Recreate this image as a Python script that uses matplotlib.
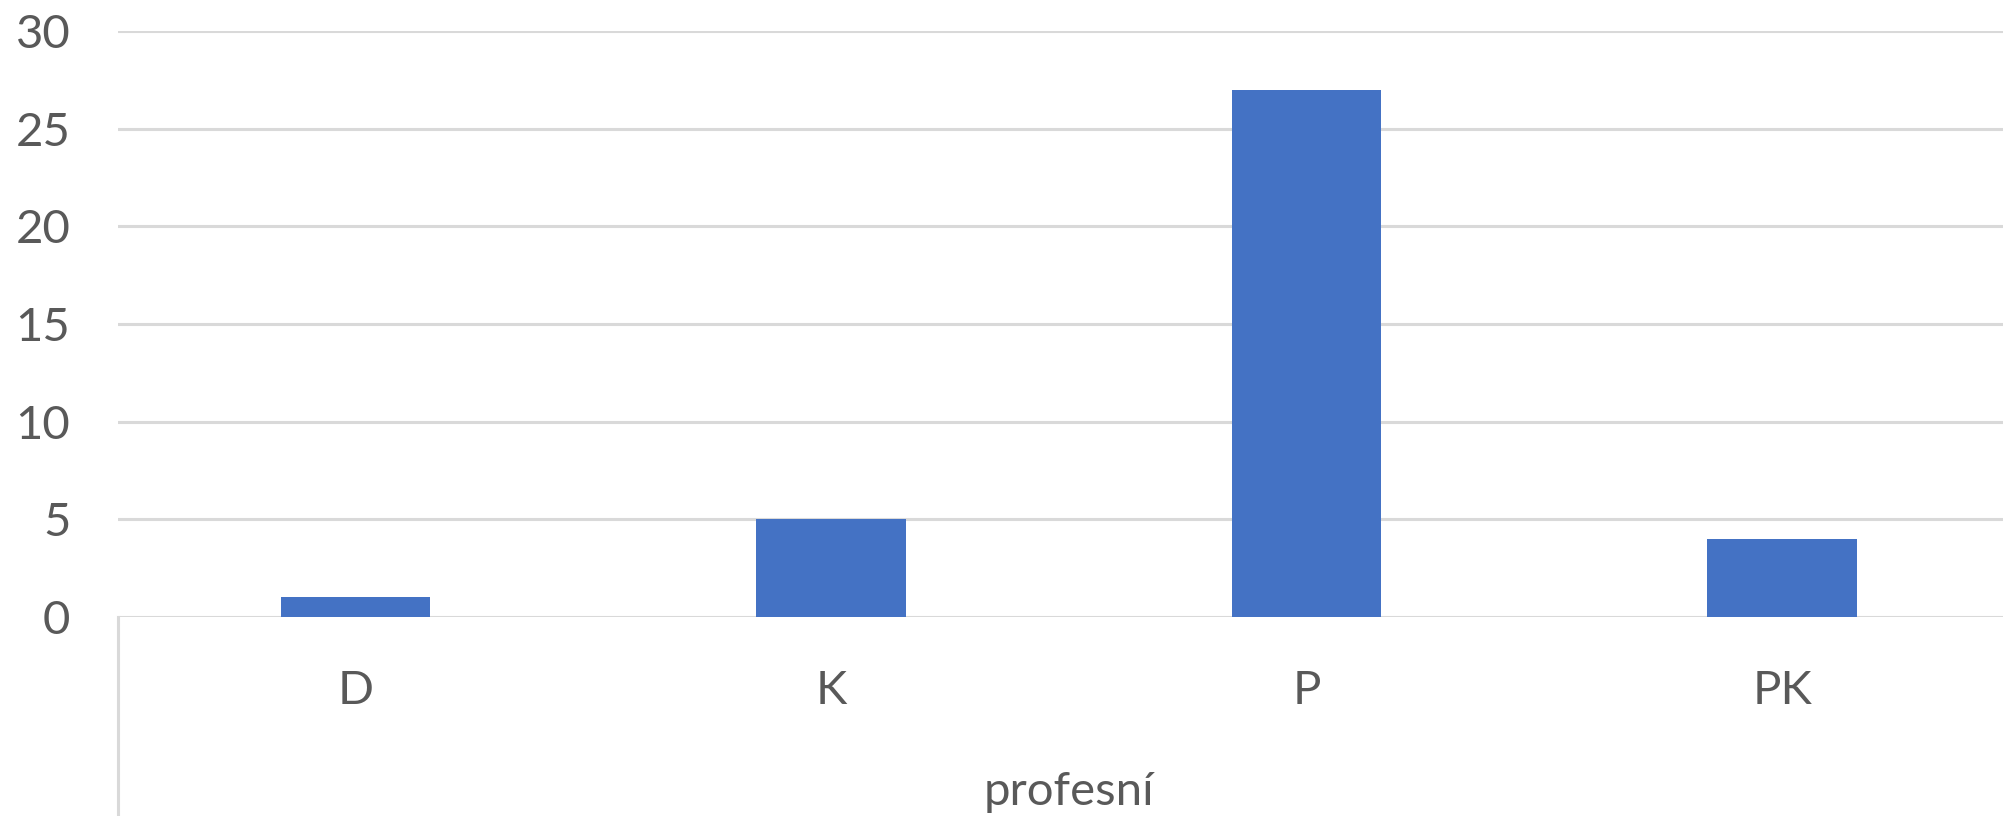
import matplotlib
matplotlib.use("Agg")
import matplotlib.pyplot as plt
from matplotlib.lines import Line2D

categories = ["D", "K", "P", "PK"]
counts = [1, 5, 27, 4]
y_ticks = [0, 5, 10, 15, 20, 25, 30]
axis_title = "profesní"

BAR = "#4472C4"
GRID = "#D9D9D9"
TEXT = "#595959"

plt.rcParams["font.family"] = ["Lato", "DejaVu Sans"]

W, H = 2003, 816
fig = plt.figure(figsize=(W / 100, H / 100), dpi=100)
# axes spans from the y-axis line to past the right edge (chart is cropped there)
left_px, zero_px, top_px = 117.5, 617, 31
cat_px = 475.6
ax = fig.add_axes([left_px / W, (H - zero_px) / H, 1 - left_px / W, (zero_px - top_px) / H])
ax.set_xlim(-0.5, -0.5 + (W - left_px) / cat_px)
ax.set_ylim(0, 30)

ax.bar(range(len(categories)), counts, width=0.314, color=BAR, zorder=3)

ax.set_yticks(y_ticks)
ax.yaxis.grid(True, color=GRID, linewidth=2.2, zorder=0)
ax.set_axisbelow(True)
for s in ax.spines.values():
    s.set_visible(False)
ax.tick_params(axis="y", length=0, pad=34, labelsize=34, labelcolor=TEXT)
ax.set_xticks(range(len(categories)))
ax.set_xticklabels(categories)
ax.tick_params(axis="x", length=0, pad=38, labelsize=34, labelcolor=TEXT)

# multi-level category axis: vertical divider under the plot at the left edge
ax_h = (zero_px - top_px)
ax.add_line(Line2D([0, 0], [0, -(H - zero_px) / ax_h], transform=ax.transAxes,
                   color=GRID, linewidth=2.2, clip_on=False))
mid = (1.5 + 0.5) / ((W - left_px) / cat_px)
ax.text(mid, -(792 - zero_px) / ax_h, axis_title, transform=ax.transAxes,
        ha="center", va="center", fontsize=34, color=TEXT)

fig.savefig("out.png", dpi=100)
